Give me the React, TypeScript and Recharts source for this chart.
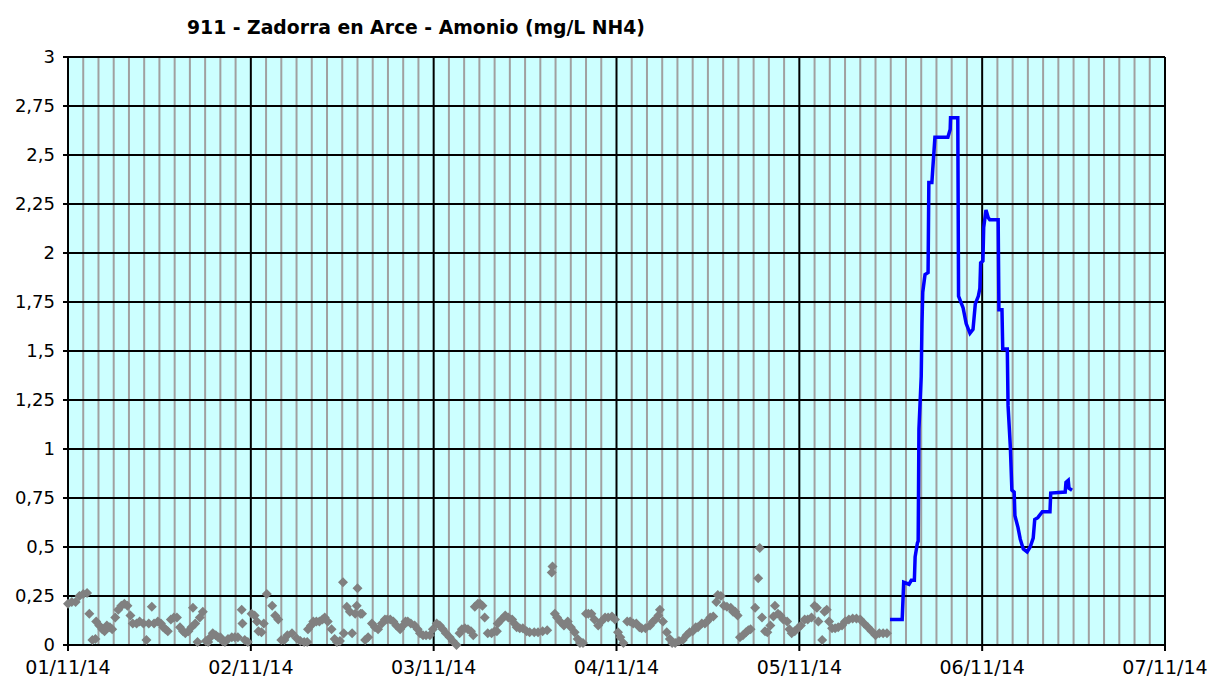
import React from 'react'
import { ComposedChart, Line, Scatter, XAxis, YAxis, CartesianGrid } from 'recharts'

// hours since 01/11/14 00:00
const greyHours = [
  0.0, 0.5, 1.0, 1.5, 2.0, 2.5, 2.8, 3.2, 3.6, 3.7, 4.1, 4.5, 4.8, 5.1, 5.5, 5.8, 6.2, 6.6, 7.0, 7.4,
  7.8, 8.2, 8.5, 9.0, 9.4, 9.9, 10.3, 10.6, 11.0, 11.3, 11.8, 12.2, 12.5, 12.8, 13.1, 13.5, 13.9, 14.3, 14.7, 15.1,
  15.4, 15.8, 16.2, 16.4, 16.7, 17.0, 17.3, 17.7, 18.1, 18.4, 18.7, 19.0, 19.4, 19.7, 20.0, 20.3, 20.6, 21.0, 21.5, 21.9,
  22.3, 22.8, 22.9, 23.2, 23.6, 24.1, 24.5, 24.8, 25.0, 25.4, 25.7, 26.1, 26.8, 27.2, 27.6, 28.0, 28.4, 28.8, 29.4, 30.0,
  30.5, 31.0, 31.4, 31.5, 31.9, 32.2, 32.6, 33.0, 33.4, 33.7, 34.1, 34.6, 35.0, 35.3, 35.7, 36.1, 36.2, 36.6, 37.0, 37.3,
  37.7, 37.9, 38.0, 38.4, 38.6, 39.0, 39.4, 39.9, 40.3, 40.7, 41.2, 41.6, 41.9, 42.3, 42.7, 43.1, 43.6, 44.0, 44.3, 44.6,
  45.0, 45.5, 45.9, 46.2, 46.6, 47.0, 47.5, 47.9, 48.4, 48.8, 49.2, 49.6, 50.1, 50.5, 51.0, 51.4, 51.7, 52.1, 52.5, 52.9,
  53.2, 53.4, 53.8, 54.1, 54.4, 54.7, 55.1, 55.6, 56.0, 56.3, 56.4, 56.9, 57.4, 57.8, 58.3, 58.6, 58.9, 59.3, 59.7, 60.2,
  60.6, 61.2, 61.7, 62.3, 62.9, 63.5, 63.6, 63.9, 64.2, 64.6, 65.1, 65.6, 66.0, 66.5, 66.9, 67.2, 67.6, 68.0, 68.3, 68.7,
  69.1, 69.6, 70.0, 70.5, 70.9, 71.4, 71.8, 72.2, 72.5, 72.9, 73.4, 73.8, 74.2, 74.6, 75.0, 75.3, 75.8, 76.4, 76.8, 77.1,
  77.5, 77.7, 78.1, 78.6, 79.0, 79.3, 79.7, 80.2, 80.7, 81.2, 81.6, 82.0, 82.4, 82.7, 83.2, 83.6, 83.9, 84.3, 84.7, 85.1,
  85.3, 85.7, 86.1, 86.5, 87.0, 87.3, 87.6, 87.9, 88.2, 88.6, 89.0, 89.3, 89.6, 90.2, 90.6, 90.8, 91.1, 91.5, 91.8, 92.2,
  92.6, 92.8, 93.2, 93.5, 93.9, 94.4, 94.7, 95.0, 95.4, 95.8, 96.2, 96.7, 97.1, 97.6, 98.0, 98.3, 98.5, 99.0, 99.3, 99.6,
  99.9, 100.3, 100.7, 101.1, 101.6, 102.0, 102.5, 103.0, 103.5, 104.0, 104.5, 105.0, 105.5, 106.0, 106.5, 107.0, 107.5,
]
const greyValues = [
  0.21, 0.22, 0.22, 0.25, 0.26, 0.265, 0.16, 0.025, 0.03, 0.12, 0.1, 0.08, 0.07, 0.1, 0.09, 0.08, 0.14, 0.18, 0.2, 0.21,
  0.2, 0.15, 0.11, 0.11, 0.12, 0.11, 0.025, 0.11, 0.195, 0.11, 0.12, 0.11, 0.09, 0.08, 0.07, 0.13, 0.14, 0.14, 0.09, 0.07,
  0.06, 0.07, 0.09, 0.19, 0.11, 0.015, 0.14, 0.17, 0.02, 0.015, 0.04, 0.06, 0.05, 0.04, 0.04, 0.02, 0.015, 0.03, 0.04, 0.04,
  0.04, 0.18, 0.11, 0.025, 0.015, 0.16, 0.15, 0.12, 0.07, 0.065, 0.11, 0.26, 0.2, 0.15, 0.13, 0.025, 0.025, 0.05, 0.06, 0.035,
  0.02, 0.015, 0.015, 0.08, 0.1, 0.12, 0.12, 0.12, 0.13, 0.14, 0.12, 0.08, 0.03, 0.015, 0.02, 0.32, 0.06, 0.195, 0.17, 0.06,
  0.16, 0.2, 0.29, 0.16, 0.16, 0.025, 0.04, 0.11, 0.09, 0.08, 0.11, 0.13, 0.13, 0.13, 0.12, 0.1, 0.08, 0.1, 0.12, 0.12,
  0.11, 0.1, 0.08, 0.06, 0.05, 0.05, 0.05, 0.08, 0.11, 0.1, 0.08, 0.06, 0.04, 0.02, 0.0, 0.06, 0.08, 0.085, 0.08, 0.07,
  0.05, 0.195, 0.21, 0.21, 0.2, 0.14, 0.06, 0.06, 0.07, 0.07, 0.11, 0.13, 0.15, 0.14, 0.13, 0.11, 0.09, 0.085, 0.085, 0.07,
  0.065, 0.065, 0.065, 0.07, 0.075, 0.37, 0.4, 0.16, 0.14, 0.12, 0.1, 0.12, 0.09, 0.065, 0.03, 0.01, 0.01, 0.16, 0.16, 0.16,
  0.13, 0.1, 0.12, 0.14, 0.14, 0.145, 0.13, 0.065, 0.04, 0.01, 0.12, 0.12, 0.11, 0.11, 0.09, 0.085, 0.085, 0.1, 0.12, 0.13,
  0.15, 0.18, 0.12, 0.065, 0.03, 0.01, 0.01, 0.02, 0.025, 0.05, 0.065, 0.07, 0.09, 0.09, 0.11, 0.11, 0.12, 0.14, 0.145, 0.22,
  0.255, 0.25, 0.2, 0.195, 0.19, 0.17, 0.17, 0.15, 0.04, 0.05, 0.065, 0.075, 0.08, 0.19, 0.34, 0.495, 0.14, 0.07, 0.065, 0.1,
  0.145, 0.2, 0.16, 0.15, 0.13, 0.12, 0.08, 0.06, 0.07, 0.085, 0.1, 0.13, 0.13, 0.14, 0.2, 0.19, 0.12, 0.025, 0.17, 0.18,
  0.12, 0.085, 0.085, 0.09, 0.1, 0.12, 0.13, 0.135, 0.135, 0.13, 0.11, 0.09, 0.07, 0.05, 0.06, 0.06, 0.06,
]

const blueHours = [
  107.9, 109.5, 109.7, 110.4, 110.7, 111.1, 111.2, 111.5, 111.6, 111.7, 112.0, 112.1, 112.2, 112.5, 112.9, 113.0, 113.4, 113.5,
  113.8, 115.5, 115.8, 115.85, 116.8, 116.9, 117.5, 117.9, 118.4, 118.8, 119.1, 119.5, 119.7, 119.8, 120.1, 120.2, 120.5, 120.8,
  121.0, 122.1, 122.2, 122.6, 122.7, 123.3, 123.4, 123.7, 123.9, 124.2, 124.3, 124.7, 125.0, 125.4, 125.9, 126.3, 126.7, 126.9,
  127.3, 127.9, 128.9, 129.0, 130.9, 131.0, 131.3, 131.4, 131.8,
]
const blueValues = [
  0.13, 0.13, 0.32, 0.31, 0.33, 0.33, 0.45, 0.52, 0.53, 1.1, 1.37, 1.64, 1.8, 1.89, 1.9, 2.36, 2.36, 2.42,
  2.59, 2.59, 2.63, 2.69, 2.69, 1.78, 1.72, 1.64, 1.59, 1.61, 1.74, 1.78, 1.82, 1.95, 1.96, 2.13, 2.22, 2.18,
  2.17, 2.17, 1.71, 1.71, 1.51, 1.51, 1.22, 1.01, 0.79, 0.78, 0.66, 0.6, 0.54, 0.49, 0.475, 0.5, 0.545, 0.64,
  0.65, 0.68, 0.68, 0.775, 0.78, 0.83, 0.84, 0.8, 0.79,
]

const dayTicks = [0, 24, 48, 72, 96, 120, 144]
const dayLabels = ['01/11/14', '02/11/14', '03/11/14', '04/11/14', '05/11/14', '06/11/14', '07/11/14']
const minorTicks = Array.from({ length: 72 }, (_, i) => i * 2).filter(h => h % 24 !== 0)
const yTicks = [0, 0.25, 0.5, 0.75, 1, 1.25, 1.5, 1.75, 2, 2.25, 2.5, 2.75, 3]

const greyData = greyHours.map((h, i) => ({ h, v: greyValues[i] }))
const blueData = blueHours.map((h, i) => ({ h, v: blueValues[i] }))

const Diamond = (props: any) => {
  const { cx, cy } = props
  if (cx == null || cy == null) return null
  const r = 5
  return <polygon points={`${cx},${cy - r} ${cx + r},${cy} ${cx},${cy + r} ${cx - r},${cy}`} fill="#808080" />
}

// minor grid every 2 hours, positioned through the x axis scale
const minorGrid = ({ xAxis, offset }: any) =>
  minorTicks.map(t => {
    const s = xAxis?.scale
    if (typeof s === 'function') return s(t)
    if (s && typeof s.map === 'function') return s.map(t)
    return offset.left + (offset.width * t) / 144
  })

const tickFont = { fontFamily: 'DejaVu Sans', fontSize: 18, fill: '#000' }

export default function App() {
  return (
    <div style={{ position: 'absolute', left: 0, top: 0, width: 1209, height: 684, background: '#fff' }}>
      <div
        style={{
          position: 'absolute',
          left: 187,
          top: 17,
          fontFamily: 'DejaVu Sans',
          fontWeight: 'bold',
          fontSize: 18.8,
          lineHeight: '22px',
          whiteSpace: 'nowrap',
        }}
      >
        911 - Zadorra en Arce - Amonio (mg/L NH4)
      </div>
      <ComposedChart width={1209} height={684} margin={{ top: 57, right: 44, left: 0, bottom: 9 }}>
        <CartesianGrid
          fill="#ccffff"
          horizontal={false}
          stroke="#a0a0a0"
          strokeWidth={2}
          verticalCoordinatesGenerator={minorGrid}
        />
        <CartesianGrid stroke="#000" strokeWidth={2} />
        <XAxis
          type="number"
          dataKey="h"
          domain={[0, 144]}
          ticks={dayTicks}
          tickFormatter={(v: number) => dayLabels[dayTicks.indexOf(v)]}
          tick={{ ...tickFont, fontSize: 19 }}
          tickSize={6}
          tickMargin={10}
          height={30}
          stroke="#000"
          strokeWidth={2}
        />
        <YAxis
          type="number"
          domain={[0, 3]}
          ticks={yTicks}
          tickFormatter={(v: number) => String(v).replace('.', ',')}
          tick={tickFont}
          tickSize={5}
          tickMargin={8}
          width={68}
          stroke="#000"
          strokeWidth={2}
        />
        <Scatter data={greyData} dataKey="v" shape={<Diamond />} isAnimationActive={false} />
        <Line
          data={blueData}
          dataKey="v"
          type="linear"
          stroke="#0000ff"
          strokeWidth={3.5}
          dot={false}
          isAnimationActive={false}
        />
      </ComposedChart>
    </div>
  )
}
